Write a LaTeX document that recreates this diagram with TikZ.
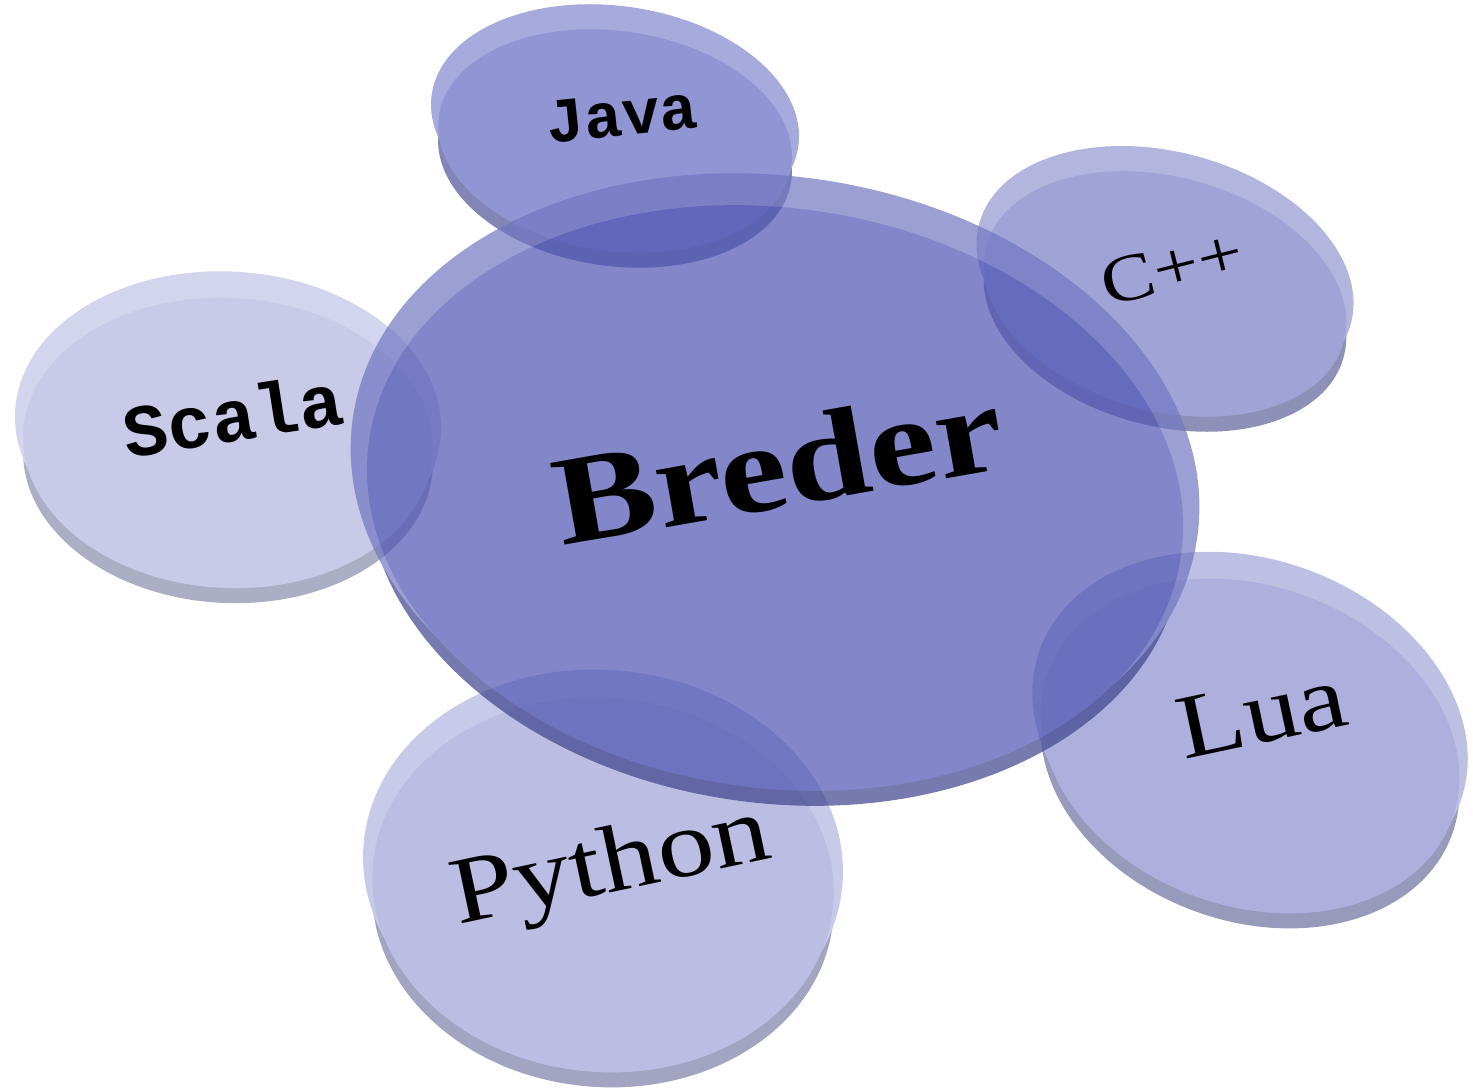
\documentclass[tikz,border=0pt]{standalone}
\usepackage{fontspec}
\setmainfont{Liberation Serif}
\newfontfamily\slabmono{Liberation Mono}
\usetikzlibrary{shapes.geometric, shadows}
\definecolor{brederblue}{HTML}{4E54B2}
\definecolor{javablue}{HTML}{6368C0}
\definecolor{cppblue}{HTML}{777CC4}
\definecolor{scalablue}{HTML}{B0B3DE}
\definecolor{luablue}{HTML}{8A8ECD}
\definecolor{pythonblue}{HTML}{9EA1D7}
\tikzset{
    disc/.style={ellipse, inner sep=0pt, fill=#1,
      general shadow={shadow yshift=-0.15cm, fill=#1!78!black},
      general shadow={shadow yshift=0.2cm, shadow scale=1.04, fill=#1!80!white}},
    glass/.style={transparency group, opacity=0.7},
    tag/.style={inner sep=1pt, text=black},
}
\newcommand{\Fs}[1]{\fontsize{#1}{#1}\selectfont}

\begin{document}
\begin{tikzpicture}
    \useasboundingbox (0,0) rectangle (14.73,10.89);

    \begin{scope}[glass]
      \node[disc=javablue, minimum width=3.56cm, minimum height=2.2cm, rotate=-8] (java) at (6.15,9.48) {};
    \end{scope}
    \begin{scope}[glass]
      \node[disc=scalablue, minimum width=4.1cm, minimum height=2.9cm, rotate=-3] (scala) at (2.28,6.46) {};
    \end{scope}
    \begin{scope}[glass]
      \node[disc=cppblue, minimum width=3.7cm, minimum height=2.34cm, rotate=-15] (cpp) at (11.65,7.95) {};
    \end{scope}
    \begin{scope}[glass]
      \node[disc=luablue, minimum width=4.3cm, minimum height=3.2cm, rotate=-20] (lua) at (12.5,3.43) {};
    \end{scope}
    \begin{scope}[glass]
      \node[disc=pythonblue, minimum width=4.62cm, minimum height=3.74cm, rotate=-5] (python) at (6.03,2.04) {};
    \end{scope}
    \begin{scope}[glass]
      \node[disc=brederblue, minimum width=8.2cm, minimum height=5.8cm, rotate=-8] (breder) at (7.75,5.91) {};
    \end{scope}

    % labels
    \node[tag, rotate=10, xscale=1.2, font=\bfseries\Fs{36}] (tbreder) at (7.78,6.25) {Breder};
    \node[tag, rotate=6, font=\slabmono\bfseries\Fs{18}] (tjava) at (6.22,9.74) {Java};
    \node[tag, rotate=9, font=\slabmono\bfseries\Fs{21}] (tscala) at (2.33,6.74) {Scala};
    \node[tag, rotate=14, xscale=1.2, font=\Fs{19}] (tcpp) at (11.72,8.21) {C++};
    \node[tag, rotate=12, xscale=1.2, font=\Fs{26}] (tlua) at (12.62,3.76) {Lua};
    \node[tag, rotate=12, xscale=1.2, font=\Fs{27}] (tpython) at (6.12,2.2) {Python};
\end{tikzpicture}
\end{document}
